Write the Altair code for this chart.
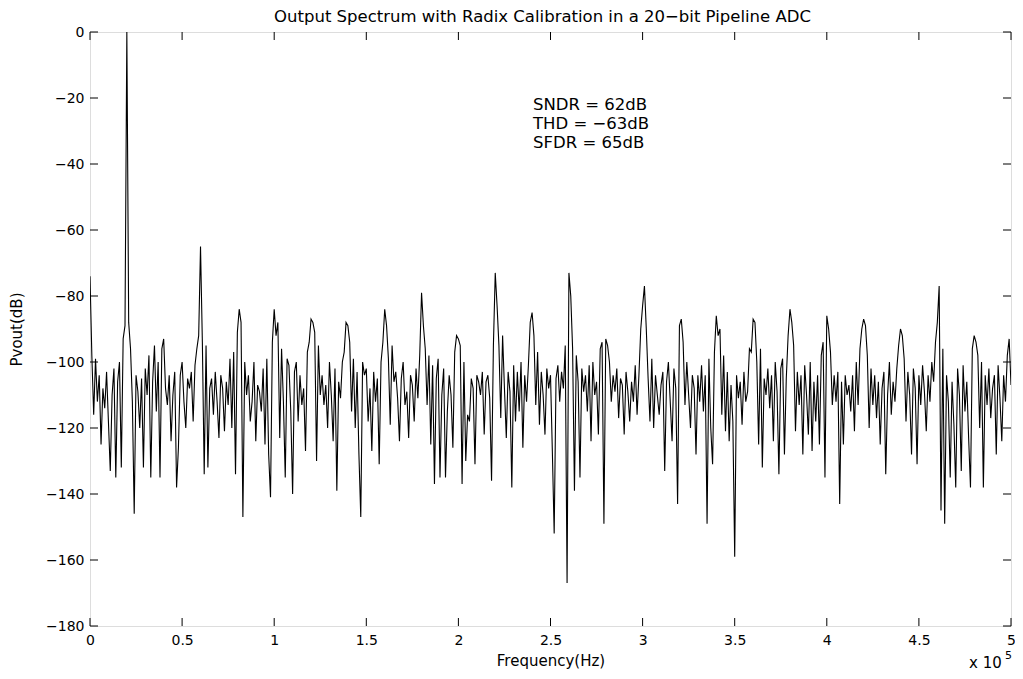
import altair as alt
import pandas as pd

BIN_HZ = 1000  # FFT bin spacing

seg_a = [-74,-98,-116,-99,-112,-104,-125,-108,-114,-103,-118,-133,-110,-102,-135,-106,-100,-132,-93,-89,
         0,-88,-96,-112,-146,-104,-109,-120,-105,-132,-102,-110,-98,-135,-106,-95,-115,-100,-135,-96,
         -93,-108,-113,-104,-124,-110,-103,-138,-126,-104,-100,-112,-120,-105,-108,-103,-118,-101,-96,-92,
         -65,-94,-134,-95,-132,-108,-105,-116,-103,-112,-123,-104,-108,-121,-106,-113,-99,-120,-97,-134,
         -91,-84,-88,-147,-100,-110,-104,-118,-112,-100,-124,-107,-109,-115,-102,-125,-99,-128,-141,-94]
seg_b = [-84,-92,-88,-123,-96,-112,-135,-99,-101,-115,-140,-103,-100,-118,-104,-113,-108,-127,-97,-94,
         -87,-88,-91,-130,-95,-110,-104,-113,-107,-120,-100,-110,-124,-102,-139,-106,-111,-100,-97,-88,
         -89,-94,-115,-99,-120,-103,-128,-147,-100,-104,-102,-118,-108,-127,-103,-112,-105,-131,-100,-94,
         -84,-89,-99,-119,-95,-106,-103,-111,-124,-105,-100,-113,-109,-123,-104,-107,-118,-102,-111,-98,
         -79,-89,-96,-113,-98,-125,-101,-137,-105,-99,-135,-110,-102,-135,-115,-104,-110,-126,-97,-92]
seg_c = [-93,-95,-137,-100,-130,-116,-118,-105,-108,-131,-104,-106,-110,-103,-122,-106,-104,-111,-136,-95,
         -73,-83,-95,-117,-92,-108,-123,-103,-109,-138,-101,-118,-103,-115,-100,-126,-104,-112,-101,-88,
         -85,-92,-113,-97,-119,-103,-110,-122,-102,-108,-104,-127,-152,-105,-101,-112,-103,-108,-95,-167,
         -73,-80,-96,-139,-98,-106,-135,-102,-109,-104,-115,-101,-124,-100,-110,-106,-122,-96,-94,-149,
         -93,-95,-100,-112,-104,-109,-102,-117,-105,-107,-122,-103,-109,-118,-106,-112,-101,-116,-104,-90]
seg_d = [-83,-77,-90,-105,-118,-99,-120,-104,-110,-116,-107,-103,-133,-106,-100,-112,-124,-102,-108,-143,
         -89,-87,-94,-113,-100,-110,-120,-104,-108,-128,-104,-112,-101,-115,-104,-149,-99,-120,-131,-97,
         -86,-92,-90,-116,-98,-121,-103,-124,-107,-118,-159,-104,-111,-106,-119,-103,-112,-109,-96,-97,
         -87,-88,-100,-125,-96,-132,-105,-110,-102,-114,-104,-124,-100,-109,-134,-102,-99,-128,-105,-92,
         -84,-88,-95,-121,-103,-113,-104,-128,-101,-110,-122,-100,-127,-106,-118,-104,-125,-98,-94,-135]
seg_e = [-86,-90,-97,-113,-104,-112,-103,-143,-106,-125,-104,-110,-107,-115,-104,-121,-100,-113,-96,-90,
         -87,-89,-98,-120,-102,-113,-104,-117,-106,-125,-108,-103,-134,-110,-100,-116,-106,-112,-102,-95,
         -90,-92,-99,-118,-103,-110,-128,-102,-108,-131,-104,-113,-101,-109,-121,-104,-112,-100,-106,-94,
         -88,-77,-145,-96,-149,-104,-112,-135,-106,-119,-138,-102,-110,-133,-101,-115,-106,-123,-138,-96,
         -92,-94,-98,-120,-100,-138,-104,-113,-102,-117,-108,-104,-128,-101,-111,-124,-104,-112,-98,-93,-107]

x_ticks = [0, 50000, 100000, 150000, 200000, 250000, 300000, 350000, 400000, 450000, 500000]
y_ticks = [-180, -160, -140, -120, -100, -80, -60, -40, -20, 0]
notes = ["SNDR = 62dB", "THD = \u221263dB", "SFDR = 65dB"]
title_text = "Output Spectrum with Radix Calibration in a 20\u2212bit Pipeline ADC"

pvout = seg_a + seg_b + seg_c + seg_d + seg_e
df = pd.DataFrame({"f": [i * BIN_HZ for i in range(len(pvout))], "db": pvout})

W, H = 921, 594
FONT = "DejaVu Sans"
TXT = dict(font=FONT, color="black")

xs = alt.Scale(domain=[0, 500000], nice=False, zero=False)
ys = alt.Scale(domain=[-180, 0], nice=False, zero=False)

line = alt.Chart(df).mark_line(color="black", strokeWidth=1.1, clip=True).encode(
    x=alt.X("f:Q", scale=xs, axis=alt.Axis(
        values=x_ticks, labelExpr="format(datum.value/100000, '~g')", title="Frequency(Hz)",
        tickSize=0, domain=False, grid=False, labelFlush=False, labelOverlap=False,
        labelPadding=7, titlePadding=6, labelFontSize=14, titleFontSize=15,
        labelFont=FONT, titleFont=FONT, titleFontWeight="normal", labelColor="black", titleColor="black")),
    y=alt.Y("db:Q", scale=ys, axis=alt.Axis(
        values=y_ticks, title="Pvout(dB)", tickSize=0, domain=False, grid=False,
        labelPadding=6, labelFontSize=14, titleFontSize=15, labelFont=FONT, titleFont=FONT,
        titleFontWeight="normal", labelColor="black", titleColor="black", labelFlush=False,
        labelOverlap=False, titleX=-66, titleY=H / 2)),
)

xt = pd.DataFrame({"f": x_ticks})
yt = pd.DataFrame({"db": y_ticks})
TL = 8
xb = alt.Chart(xt).mark_rule(color="black", strokeWidth=1).encode(
    x=alt.X("f:Q", scale=xs, axis=None), y=alt.value(H), y2=alt.value(H - TL))
xtp = alt.Chart(xt).mark_rule(color="black", strokeWidth=1).encode(
    x=alt.X("f:Q", scale=xs, axis=None), y=alt.value(0), y2=alt.value(TL))
yl = alt.Chart(yt).mark_rule(color="black", strokeWidth=1).encode(
    y=alt.Y("db:Q", scale=ys, axis=None), x=alt.value(0), x2=alt.value(TL))
yr = alt.Chart(yt).mark_rule(color="black", strokeWidth=1).encode(
    y=alt.Y("db:Q", scale=ys, axis=None), x=alt.value(W), x2=alt.value(W - TL))

nd = pd.DataFrame({"t": notes, "i": [0, 1, 2]})
note = alt.Chart(nd).mark_text(align="left", baseline="middle", fontSize=16.5, **TXT).encode(
    text="t:N", x=alt.value(443),
    y=alt.Y("i:Q", axis=None, scale=alt.Scale(domain=[0, 2], range=[73, 111])),
)

exp1 = alt.Chart(pd.DataFrame({"t": ["x 10"]})).mark_text(
    align="left", baseline="alphabetic", fontSize=15, **TXT).encode(
    text="t:N", x=alt.value(879), y=alt.value(H + 42))
exp2 = alt.Chart(pd.DataFrame({"t": ["5"]})).mark_text(
    align="left", baseline="alphabetic", fontSize=11, **TXT).encode(
    text="t:N", x=alt.value(915), y=alt.value(H + 33))

chart = alt.layer(line, xb, xtp, yl, yr, note, exp1, exp2).resolve_scale(
    y="independent").resolve_axis(x="independent", y="independent").properties(
    width=W, height=H,
    title=alt.TitleParams(title_text, fontSize=16.5, font=FONT, fontWeight="normal",
                          color="black", offset=0, anchor="middle", dx=-8),
    autosize=alt.AutoSizeParams(type="none"),
    padding={"left": 82, "top": 24, "right": 4, "bottom": 53},
).configure_view(stroke="black", strokeWidth=1).configure(background="white")

chart.save("out.html", embed_options={"renderer": "svg", "actions": False})
